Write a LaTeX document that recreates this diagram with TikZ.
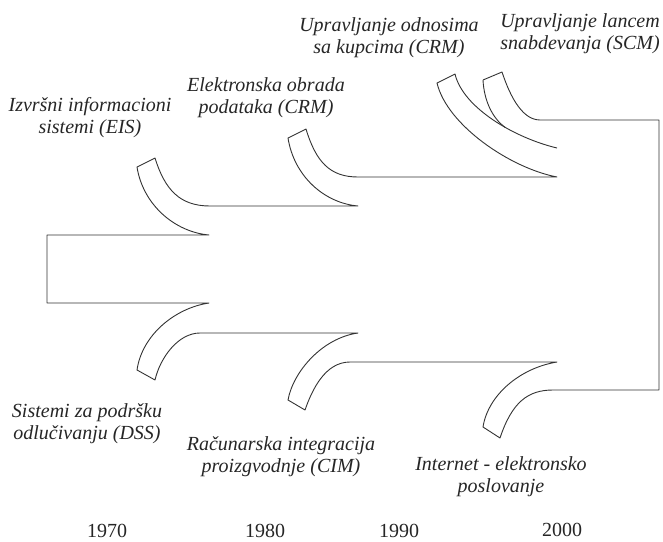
\documentclass[tikz,border=0pt]{standalone}
\usepackage{fontspec}
\setmainfont{Liberation Serif}[
	UprightFont=* ,
	ItalicFont=* Italic,
	BoldFont=* Bold]
\usepackage{tikz}
\usetikzlibrary{positioning}

\tikzset{
	outline/.style={draw=black!80, line width=0.9pt, line join=round},
	era/.style={font=\fontsize{20}{22}\selectfont\itshape, text=black!85,
		align=center, inner sep=0pt},
	year/.style={font=\fontsize{20}{22}\selectfont, text=black!85, inner sep=0pt}
}

\begin{document}
\begin{tikzpicture}[x=1pt, y=-1pt]
	\useasboundingbox (0,0) rectangle (663,541);

	\draw[outline] (557,148) .. controls (515,138) and (463,108) ..
		  coordinate[pos=0.4] (meet) (455,74)
		-- (437,83) .. controls (447,125) and (510,168) .. (557,177)
		-- (358,177) .. controls (330,177) and (316,162) .. (306,129)
		-- (288,138) .. controls (294,176) and (324,203) .. (358,206)
		-- (210,206) .. controls (180,206) and (165,190) .. (155,158)
		-- (137,167) .. controls (143,205) and (175,232) .. (209,235)
		-- (47,235) -- (47,303) -- (209,303)
		.. controls (175,308) and (142,335) .. (137,370)
		-- (155,380) .. controls (160,358) and (178,333) .. (200,333)
		-- (358,333) .. controls (322,338) and (293,372) .. (288,400)
		-- (305,410) .. controls (312,390) and (325,362) .. (350,362)
		-- (557,362) .. controls (520,368) and (488,395) .. (483,427)
		-- (500,438) .. controls (512,402) and (528,390) .. (553,390)
		-- (659,390) -- (659,120) -- (540,120)
		.. controls (520,120) and (508,90) .. (502,72)
		-- (483,80);
	\draw[outline] (483,80) .. controls (484,100) and (492,118) .. (meet);

	\node[era] (EIS) at (90,118) {Izvršni informacioni\\sistemi (EIS)};
	\node[era] (EOP) at (266,98) {Elektronska obrada\\podataka (CRM)};
	\node[era] (CRM) at (389,38) {Upravljanje odnosima\\sa kupcima (CRM)};
	\node[era] (SCM) at (580,34) {Upravljanje lancem\\snabdevanja (SCM)};
	\node[era] (DSS) at (87,424) {Sistemi za podršku\\odlučivanju (DSS)};
	\node[era] (CIM) at (281,457) {Računarska integracija\\proizgvodnje (CIM)};
	\node[era] (NET) at (501,477) {Internet - elektronsko\\poslovanje};

	\node[year] (Y1) at (107,531) {1970};
	\node[year] (Y2) at (265,531) {1980};
	\node[year] (Y3) at (399,531) {1990};
	\node[year] (Y4) at (562,530) {2000};
\end{tikzpicture}
\end{document}
